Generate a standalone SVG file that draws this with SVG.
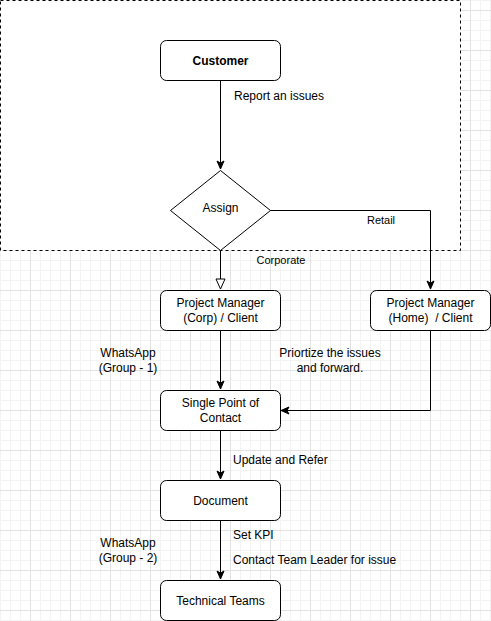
<svg xmlns="http://www.w3.org/2000/svg" width="491" height="621" viewBox="0 0 491 621">
<style>
.box{fill:#fff;stroke:#000;stroke-width:1}
.t{font-family:"Liberation Sans",Arial,sans-serif;font-size:12px;fill:#000;text-anchor:middle}
.tl{font-family:"Liberation Sans",Arial,sans-serif;font-size:12px;fill:#000}
.ts{font-family:"Liberation Sans",Arial,sans-serif;font-size:11px;fill:#000;text-anchor:middle}
.e{fill:none;stroke:#000;stroke-width:1}
</style>
<defs>
<pattern id="grid" patternUnits="userSpaceOnUse" x="30" y="10" width="40" height="40">
<rect x="10" y="0" width="1" height="40" fill="#f3f3f3"/>
<rect x="20" y="0" width="1" height="40" fill="#f3f3f3"/>
<rect x="30" y="0" width="1" height="40" fill="#f3f3f3"/>
<rect x="0" y="10" width="40" height="1" fill="#f3f3f3"/>
<rect x="0" y="20" width="40" height="1" fill="#f3f3f3"/>
<rect x="0" y="30" width="40" height="1" fill="#f3f3f3"/>
<rect x="0" y="0" width="1" height="40" fill="#e2e2e2"/>
<rect x="0" y="0" width="40" height="1" fill="#e2e2e2"/>
</pattern>
<marker id="arr" markerWidth="10" markerHeight="10" refX="9" refY="5" orient="auto" markerUnits="userSpaceOnUse">
<path d="M1,1.5 L9,5 L1,8.5 L3,5 Z" fill="#000" stroke="#000" stroke-width="1"/>
</marker>
<marker id="open" markerWidth="14" markerHeight="12" refX="11" refY="6" orient="auto" markerUnits="userSpaceOnUse">
<path d="M1,1.5 L11,6 L1,10.5 Z" fill="#fff" stroke="#000" stroke-width="1"/>
</marker>
</defs>
<rect x="0" y="0" width="491" height="621" fill="#fff"/>
<rect x="0" y="0" width="491" height="621" fill="url(#grid)"/>
<g id="container">
<rect x="0.5" y="0.5" width="460" height="250" fill="#fff" stroke="#000" stroke-width="1" stroke-dasharray="3,3"/>
</g>
<g id="connectors">
<path class="e" d="M220.5,80 L220.5,169" marker-end="url(#arr)"/>
<text class="tl" x="234" y="100">Report an issues</text>
<path class="e" d="M270,210.5 L430.5,210.5 L430.5,289" marker-end="url(#arr)"/>
<text class="ts" x="381" y="224">Retail</text>
<path class="e" d="M220.5,250 L220.5,289" marker-end="url(#open)"/>
<text class="ts" x="281" y="264">Corporate</text>
<path class="e" d="M220.5,330 L220.5,389" marker-end="url(#arr)"/>
<path class="e" d="M430.5,330 L430.5,410.5 L281,410.5" marker-end="url(#arr)"/>
<text class="t" x="128" y="357">WhatsApp</text>
<text class="t" x="128" y="372">(Group - 1)</text>
<text class="t" x="330" y="357">Priortize the issues</text>
<text class="t" x="330" y="372">and forward.</text>
<path class="e" d="M220.5,430 L220.5,479" marker-end="url(#arr)"/>
<text class="tl" x="233" y="464">Update and Refer</text>
<path class="e" d="M220.5,520 L220.5,579" marker-end="url(#arr)"/>
<text class="tl" x="233" y="539">Set KPI</text>
<text class="tl" x="233" y="564">Contact Team Leader for issue</text>
<text class="t" x="128" y="547">WhatsApp</text>
<text class="t" x="128" y="562">(Group - 2)</text>
</g>
<g id="customer">
<rect class="box" x="160.5" y="40.5" width="120" height="40" rx="6"/>
<text class="t" x="220.5" y="64.5" font-weight="bold">Customer</text>
</g>
<g id="assign">
<path class="box" d="M220.5,170.5 L270.5,210.5 L220.5,250.5 L170.5,210.5 Z"/>
<text class="t" x="220.5" y="212">Assign</text>
</g>
<g id="pm-corp">
<rect class="box" x="160.5" y="290.5" width="120" height="40" rx="6"/>
<text class="t" x="220.5" y="307">Project Manager</text>
<text class="t" x="220.5" y="322">(Corp) / Client</text>
</g>
<g id="pm-home">
<rect class="box" x="370.5" y="290.5" width="120" height="40" rx="6"/>
<text class="t" x="430.5" y="307">Project Manager</text>
<text class="t" x="430.5" y="322" xml:space="preserve">(Home)  / Client</text>
</g>
<g id="spoc">
<rect class="box" x="160.5" y="390.5" width="120" height="40" rx="6"/>
<text class="t" x="220.5" y="407">Single Point of</text>
<text class="t" x="220.5" y="422">Contact</text>
</g>
<g id="document">
<rect class="box" x="160.5" y="480.5" width="120" height="40" rx="6"/>
<text class="t" x="220.5" y="504.5">Document</text>
</g>
<g id="technical">
<rect class="box" x="160.5" y="580.5" width="120" height="40" rx="6"/>
<text class="t" x="220.5" y="604.5">Technical Teams</text>
</g>
</svg>
